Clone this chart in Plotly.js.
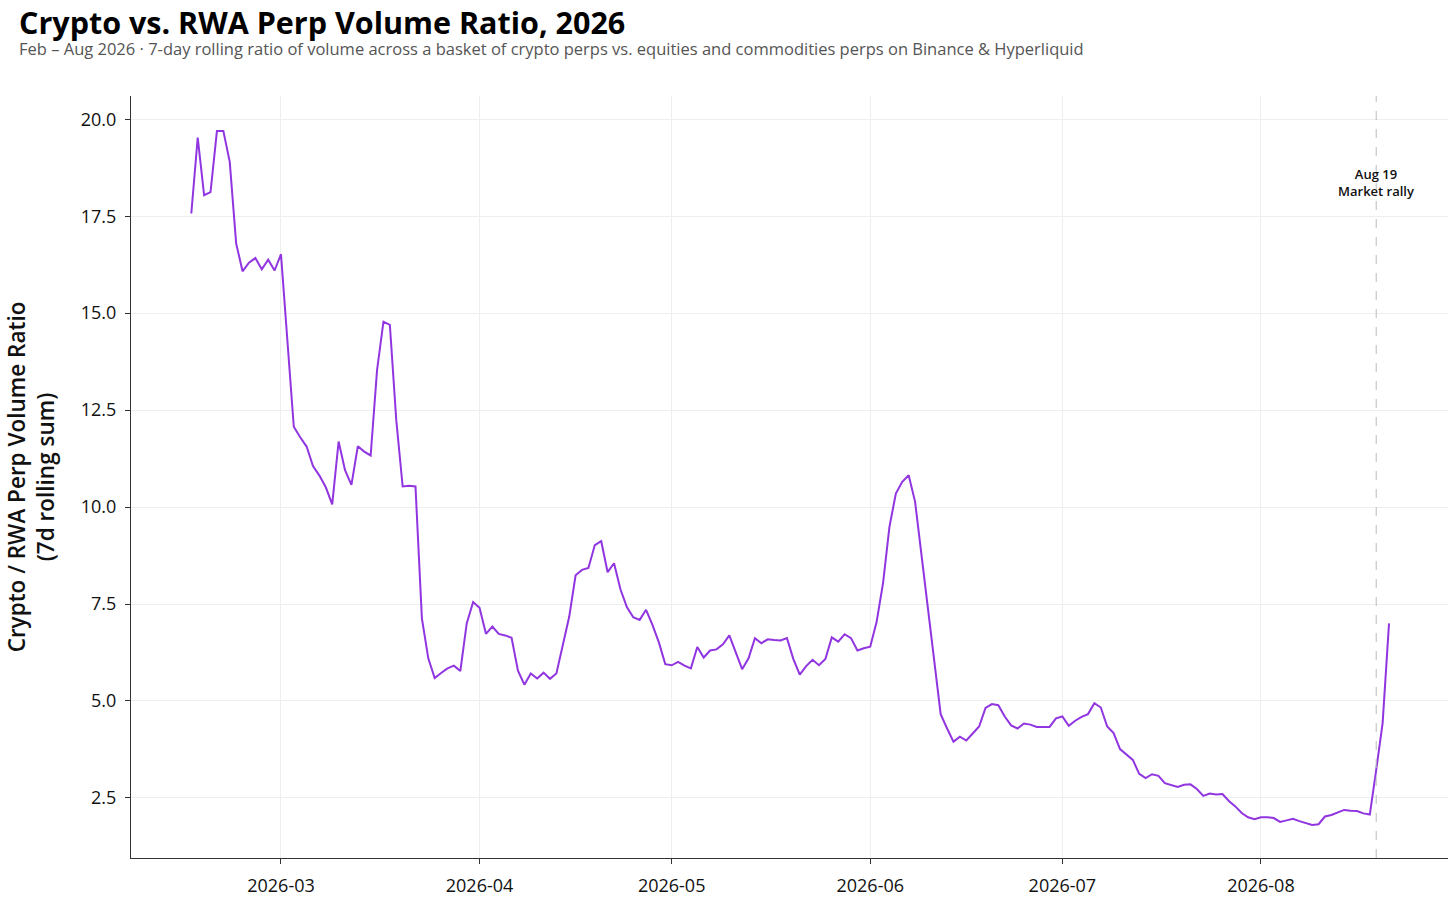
<!DOCTYPE html>
<html>
<head>
<meta charset="utf-8">
<script src="https://cdn.plot.ly/plotly-3.0.1.min.js"></script>
<style>
  html, body { margin: 0; padding: 0; background: #fff; }
  #chart { width: 1456px; height: 902px; }
</style>
</head>
<body>
<div id="chart"></div>
<script>
// daily values, 2026-02-15 .. 2026-08-21
const startDate = "2026-02-15";
const ratioFeb = [17.57, 19.53, 18.04, 18.12, 19.70, 19.70, 18.90, 16.80, 16.08, 16.30, 16.42, 16.13, 16.38, 16.10];
const ratioMar = [16.52, 14.30, 12.07, 11.80, 11.56, 11.06, 10.81, 10.51, 10.07, 11.69,
  10.95, 10.57, 11.57, 11.43, 11.33, 13.53, 14.78, 14.70, 12.24, 10.53,
  10.55, 10.53, 7.13, 6.10, 5.59, 5.72, 5.84, 5.91, 5.77, 7.00, 7.55];
const ratioApr = [7.40, 6.73, 6.92, 6.73, 6.69, 6.63, 5.78, 5.42, 5.71, 5.58,
  5.73, 5.57, 5.71, 6.40, 7.17, 8.24, 8.38, 8.43, 9.02, 9.12,
  8.32, 8.55, 7.88, 7.42, 7.16, 7.09, 7.35, 6.96, 6.51, 5.95];
const ratioMay = [5.92, 6.01, 5.91, 5.84, 6.39, 6.12, 6.30, 6.33, 6.46, 6.69,
  6.25, 5.82, 6.10, 6.62, 6.49, 6.59, 6.57, 6.56, 6.62, 6.08,
  5.68, 5.90, 6.06, 5.92, 6.08, 6.64, 6.53, 6.72, 6.62, 6.30, 6.36];
const ratioJun = [6.40, 7.04, 8.04, 9.49, 10.35, 10.65, 10.82, 10.14, 8.80, 7.40,
  6.03, 4.66, 4.29, 3.95, 4.08, 3.98, 4.16, 4.34, 4.82, 4.92,
  4.89, 4.60, 4.37, 4.29, 4.42, 4.39, 4.33, 4.33, 4.33, 4.55];
const ratioJul = [4.60, 4.36, 4.49, 4.59, 4.66, 4.94, 4.83, 4.34, 4.17, 3.76,
  3.63, 3.48, 3.12, 3.01, 3.11, 3.07, 2.88, 2.82, 2.78, 2.84,
  2.85, 2.73, 2.55, 2.61, 2.59, 2.60, 2.42, 2.28, 2.11, 2.00, 1.95];
const ratioAug = [2.00, 2.00, 1.98, 1.88, 1.92, 1.96, 1.90, 1.85, 1.80, 1.82,
  2.02, 2.06, 2.12, 2.19, 2.17, 2.16, 2.10, 2.07, 3.22, 4.43, 7.00];

const eventDate = "2026-08-19";
const eventLabel = "Aug 19<br>Market rally";

const ratio = [].concat(ratioFeb, ratioMar, ratioApr, ratioMay, ratioJun, ratioJul, ratioAug);

const dates = ratio.map((_, i) => {
  const d = new Date(startDate + "T00:00:00Z");
  d.setUTCDate(d.getUTCDate() + i);
  return d.toISOString().slice(0, 10);
});

const fontFamily = "'Open Sans', Lato, sans-serif";

const trace = {
  x: dates,
  y: ratio,
  type: "scatter",
  mode: "lines",
  line: { color: "#9035e0", width: 2 },
  hoverinfo: "x+y",
};

const layout = {
  width: 1456,
  height: 902,
  paper_bgcolor: "#ffffff",
  plot_bgcolor: "#ffffff",
  font: { family: fontFamily, color: "#111", size: 15 },
  margin: { l: 131, r: 8, t: 96, b: 44 },
  showlegend: false,
  xaxis: {
    type: "date",
    range: ["2026-02-05 14:00", "2026-08-30 05:00"],
    dtick: "M1",
    tick0: "2026-03-01",
    tickformat: "%Y-%m",
    showgrid: true,
    gridcolor: "#eeeeee",
    gridwidth: 1,
    showline: true,
    linecolor: "#333",
    linewidth: 1,
    ticks: "outside",
    ticklen: 5,
    tickcolor: "#333",
    ticklabelstandoff: 6,
    tickfont: { size: 18, color: "#111" },
    zeroline: false,
  },
  yaxis: {
    range: [0.95, 20.6],
    tick0: 0,
    dtick: 2.5,
    tickformat: ".1f",
    showgrid: true,
    gridcolor: "#eeeeee",
    gridwidth: 1,
    showline: true,
    linecolor: "#333",
    linewidth: 1,
    ticks: "outside",
    ticklen: 5,
    tickcolor: "#333",
    ticklabelstandoff: 5,
    tickfont: { size: 18, color: "#111" },
    zeroline: false,
    title: {
      text: "Crypto / RWA Perp Volume Ratio<br>(7d rolling sum)",
      font: { size: 22.5, color: "#111", weight: 600 },
      standoff: 19,
    },
  },
  shapes: [{
    type: "line",
    xref: "x",
    yref: "paper",
    x0: eventDate,
    x1: eventDate,
    y0: 0,
    y1: 1,
    line: { color: "#bbbbbb", width: 1, dash: "dash" },
  }],
  annotations: [
    {
      xref: "x",
      yref: "paper",
      x: eventDate,
      y: 0.912,
      yanchor: "top",
      text: eventLabel,
      showarrow: false,
      font: { size: 13, color: "#111", weight: 600 },
      align: "center",
    },
    {
      xref: "paper",
      yref: "paper",
      x: -0.0858,
      y: 1.0971,
      xanchor: "left",
      yanchor: "middle",
      text: "<b>Crypto vs. RWA Perp Volume Ratio, 2026</b>",
      showarrow: false,
      borderpad: 0,
      font: { size: 30.5, color: "#000" },
    },
    {
      xref: "paper",
      yref: "paper",
      x: -0.0858,
      y: 1.0617,
      xanchor: "left",
      yanchor: "middle",
      text: "Feb – Aug 2026 · 7-day rolling ratio of volume across a basket of crypto perps vs. equities and commodities perps on Binance & Hyperliquid",
      showarrow: false,
      borderpad: 0,
      font: { size: 16.5, color: "#555" },
    },
  ],
};

Plotly.newPlot("chart", [trace], layout, { displayModeBar: false, staticPlot: true });
</script>
</body>
</html>
